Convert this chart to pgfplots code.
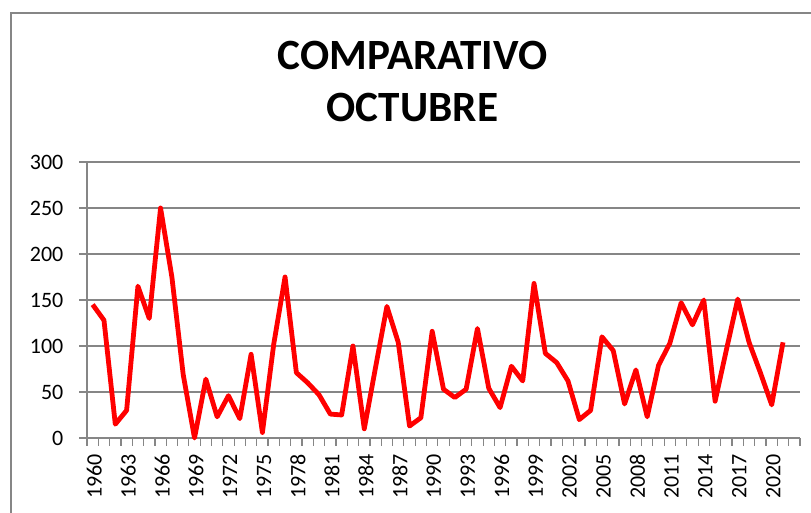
\documentclass[border=0pt]{standalone}
\usepackage{fontspec}
\setmainfont{Carlito}
\usepackage{pgfplots}
\pgfplotsset{compat=1.18}
\definecolor{gridgray}{HTML}{868686}
\begin{document}
\begin{tikzpicture}
\path[use as bounding box] (0pt,0pt) rectangle (405.5pt,256.5pt);
\draw[gridgray, line width=0.6pt] (5.5pt,-3pt) -- (5.5pt,250pt) -- (410pt,250pt);
\node[font=\bfseries\fontsize{21.6}{26}\selectfont, align=center] at (206.25pt,215.5pt) {COMPARATIVO\\OCTUBRE};
\begin{axis}[
  at={(43.5pt,37.5pt)}, anchor=south west, scale only axis,
  width=356.5pt, height=138pt,
  xmin=1959.5, xmax=2022.5, ymin=0, ymax=300,
  axis x line*=bottom, axis y line*=left,
  axis line style={draw=gridgray, line width=0.6pt, -},
  ytick={0,50,...,300},
  ymajorgrids, grid style={gridgray, line width=0.6pt},
  xtick={1959.5,1960.5,...,2022.5}, xticklabels={},
  extra x ticks={1960,1963,...,2020},
  extra x tick style={major tick length=0pt, grid=none},
  tick align=outside,
  major tick length=3.8pt,
  tick style={draw=gridgray, line width=0.6pt},
  /pgf/number format/1000 sep={},
  /pgf/number format/assume math mode=true,
  tick label style={font=\fontsize{11}{13}\selectfont},
  xticklabel style={yshift=-4.5pt, xshift=0.8pt, rotate=90, anchor=east},
  yticklabel style={xshift=-4.5pt},
  clip=false,
]
\addplot[red, line width=2.4pt, line join=round] coordinates {
(1960,145) (1961,128) (1962,15) (1963,30) (1964,165) (1965,130) (1966,250) (1967,175)
(1968,69) (1969,0) (1970,64) (1971,23) (1972,46) (1973,21) (1974,91) (1975,6)
(1976,102) (1977,175) (1978,71) (1979,60) (1980,47) (1981,26) (1982,25) (1983,100)
(1984,10) (1985,77) (1986,143) (1987,104) (1988,13) (1989,22) (1990,116) (1991,53)
(1992,44) (1993,53) (1994,119) (1995,54) (1996,33) (1997,78) (1998,62) (1999,168)
(2000,92) (2001,82) (2002,62) (2003,20) (2004,30) (2005,110) (2006,95) (2007,37)
(2008,74) (2009,23) (2010,79) (2011,103) (2012,147) (2013,123) (2014,150) (2015,40)
(2016,96) (2017,151) (2018,104) (2019,71) (2020,36) (2021,104)
};
\end{axis}
\end{tikzpicture}
\end{document}
